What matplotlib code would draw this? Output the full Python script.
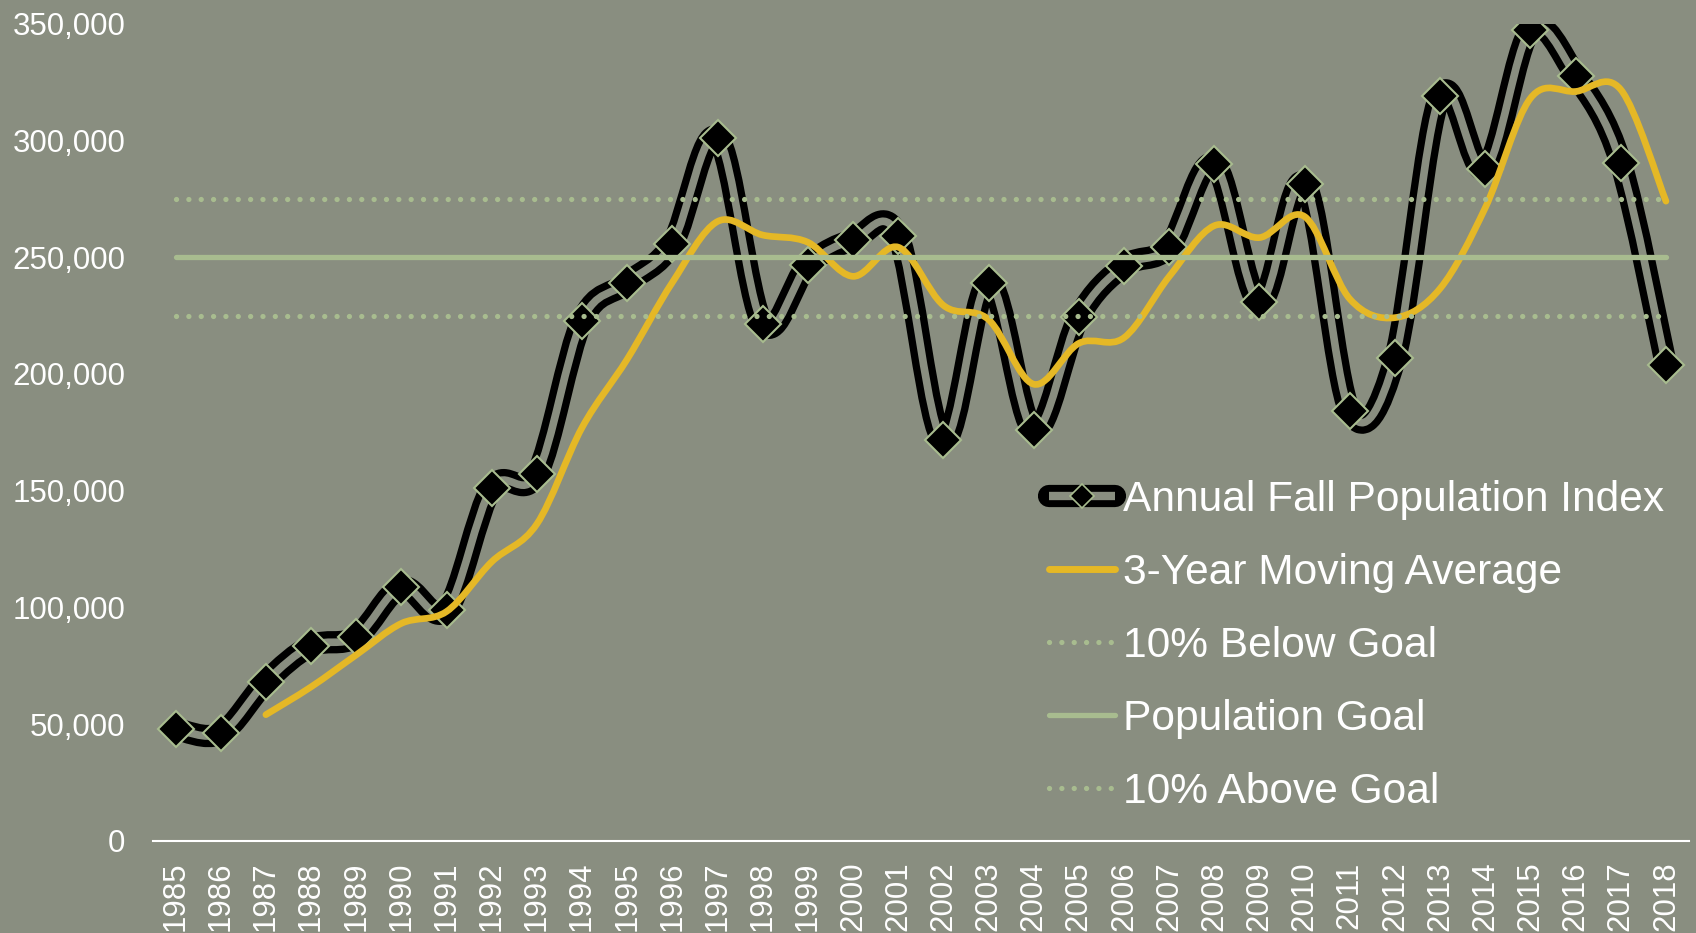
import numpy as np
import matplotlib
matplotlib.use('Agg')
import matplotlib.pyplot as plt
from matplotlib.path import Path
from matplotlib.patches import PathPatch
from matplotlib.lines import Line2D
from matplotlib.ticker import FuncFormatter

plt.rcParams['font.family'] = ['Liberation Sans', 'DejaVu Sans']

# Data
years = list(range(1985, 2019))
fall_index = [47900, 46000, 68100, 83500, 87300, 108600, 98800, 151200, 157000, 222800,
              239000, 255800, 301200, 221500, 246600, 257400, 259000, 171700, 239100, 176000,
              224300, 246300, 254500, 289800, 230900, 281500, 184000, 206700, 319200, 287800,
              347300, 327800, 290200, 204000]
# 3-year moving average, starts in 1987
ma_years = list(range(1987, 2019))
moving_avg = [54000, 65900, 79600, 93100, 98200, 119500, 135700, 177000, 206300, 239200,
              265300, 259500, 256400, 241800, 254300, 229400, 223300, 195600, 213100, 215500,
              241700, 263500, 258400, 267400, 232100, 224100, 236600, 271200, 318100, 321000,
              321800, 274000]
goal = 250000
below_goal = 225000
above_goal = 275000

bg = '#898e80'
green = '#a8bc8f'
yellow = '#e5b826'


# Excel style smoothed line: cubic bezier through the points
def smooth_path(x, y):
    n = len(x)
    verts = [(x[0], y[0])]
    codes = [Path.MOVETO]
    for i in range(n - 1):
        xa, ya = x[max(i - 1, 0)], y[max(i - 1, 0)]
        xd, yd = x[min(i + 2, n - 1)], y[min(i + 2, n - 1)]
        c1 = (x[i] + (x[i + 1] - xa) / 6, y[i] + (y[i + 1] - ya) / 6)
        c2 = (x[i + 1] - (xd - x[i]) / 6, y[i + 1] - (yd - y[i]) / 6)
        verts += [c1, c2, (x[i + 1], y[i + 1])]
        codes += [Path.CURVE4] * 3
    return Path(verts, codes)


fig = plt.figure(figsize=(16.96, 9.33), dpi=100, facecolor=bg)
ax = fig.add_axes([0.0902, 0.0989, 0.9054, 0.8756], facecolor=bg)

xi = np.arange(len(years))
xm = np.array([years.index(y) for y in ma_years])

# index line: thick black with gray core
p = smooth_path(xi, fall_index)
ax.add_patch(PathPatch(p, fill=False, edgecolor='black', lw=16, capstyle='round', joinstyle='round', zorder=2))
ax.add_patch(PathPatch(p, fill=False, edgecolor=bg, lw=5.5, capstyle='round', joinstyle='round', zorder=2.1))
ax.plot(xi, fall_index, ls='none', marker='D', ms=18, mfc='black', mec=green, mew=1.5, zorder=2.2)

# moving average
pm = smooth_path(xm, moving_avg)
ax.add_patch(PathPatch(pm, fill=False, edgecolor=yellow, lw=4.8, capstyle='round', joinstyle='round', zorder=3))

# goal lines
ax.plot(xi, [below_goal] * len(xi), color=green, lw=3.8, ls=(0, (0.01, 2.33)), dash_capstyle='round', zorder=4)
ax.plot(xi, [goal] * len(xi), color=green, lw=3.8, solid_capstyle='round', zorder=4)
ax.plot(xi, [above_goal] * len(xi), color=green, lw=3.8, ls=(0, (0.01, 2.33)), dash_capstyle='round', zorder=4)

ax.set_xlim(-0.5, len(years) - 0.5)
ax.set_ylim(0, 350000)
ax.set_yticks(range(0, 350001, 50000))
ax.yaxis.set_major_formatter(FuncFormatter(lambda v, pos: f'{int(v):,}'))
ax.set_xticks(xi)
ax.set_xticklabels([str(y) for y in years], rotation=90)
ax.tick_params(axis='y', length=0, pad=20, labelsize=22.5, labelcolor='white')
ax.tick_params(axis='x', length=0, pad=15, labelsize=22.5, labelcolor='white')
for s in ['top', 'right', 'left']:
    ax.spines[s].set_visible(False)
ax.spines['bottom'].set_color('white')
ax.spines['bottom'].set_linewidth(1.5)

# legend
h_index = (Line2D([], [], color='black', lw=16, solid_capstyle='round'),
           Line2D([], [], color=bg, lw=6, solid_capstyle='butt'),
           Line2D([], [], ls='none', marker='D', ms=12, mfc='black', mec=green, mew=1.2))
h_ma = Line2D([], [], color=yellow, lw=5, solid_capstyle='round')
h_below = Line2D([], [], color=green, lw=3.8, ls=(0, (0.01, 2.33)), dash_capstyle='round')
h_goal = Line2D([], [], color=green, lw=3.8, solid_capstyle='round')
h_above = Line2D([], [], color=green, lw=3.8, ls=(0, (0.01, 2.33)), dash_capstyle='round')

leg = fig.legend([h_index, h_ma, h_below, h_goal, h_above],
                 ['Annual Fall Population Index', '3-Year Moving Average', '10% Below Goal',
                  'Population Goal', '10% Above Goal'],
                 loc='upper left', bbox_to_anchor=(0.6185, 0.486), frameon=False,
                 fontsize=30.6, labelcolor='white', handlelength=1.55, handletextpad=0.2,
                 labelspacing=0.78, borderpad=0, borderaxespad=0)

fig.savefig('out.png', dpi=100, facecolor=bg)
